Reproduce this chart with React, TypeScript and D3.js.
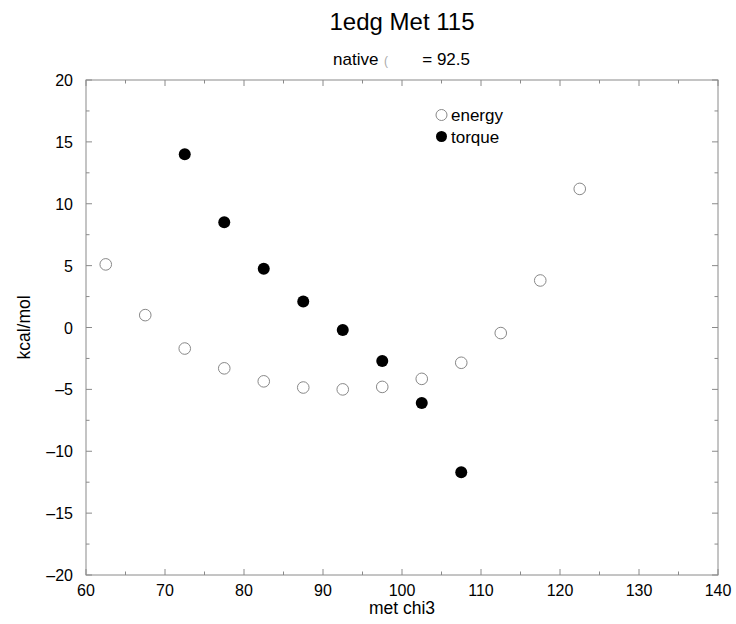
import React from "react";
import * as d3 from "d3";

const angles = [62.5, 67.5, 72.5, 77.5, 82.5, 87.5, 92.5, 97.5, 102.5, 107.5, 112.5, 117.5, 122.5];
const energy = [5.1, 1.0, -1.7, -3.3, -4.35, -4.85, -5.0, -4.8, -4.15, -2.85, -0.45, 3.8, 11.2];
const torqueAngles = [72.5, 77.5, 82.5, 87.5, 92.5, 97.5, 102.5, 107.5];
const torque = [14.0, 8.5, 4.75, 2.1, -0.2, -2.7, -6.1, -11.7];
const xTicks = [60, 70, 80, 90, 100, 110, 120, 130, 140];
const yTicks = [-20, -15, -10, -5, 0, 5, 10, 15, 20];

const W = 736, H = 624;
const left = 86, right = 718, top = 80, bottom = 575;
const FONT = "Liberation Sans, Arial, Helvetica, sans-serif";
const AX = "#8a8a8a";

export default function App() {
  const x = d3.scaleLinear().domain([60, 140]).range([left, right]);
  const y = d3.scaleLinear().domain([-20, 20]).range([bottom, top]);
  const xMinor = d3.range(65, 140, 10);
  const yMinor = d3.range(-17.5, 20, 5);
  const maj = 6, mnr = 3.5;

  return (
    <svg width={W} height={H} style={{ position: "absolute", left: 0, top: 0, background: "#fff" }} fontFamily={FONT}>
      <rect x={left} y={top} width={right - left} height={bottom - top} fill="none" stroke={AX} strokeWidth={1} />
      {xTicks.map((t) => (
        <g key={"xt" + t}>
          <line x1={x(t)} x2={x(t)} y1={bottom} y2={bottom - maj} stroke={AX} />
          <line x1={x(t)} x2={x(t)} y1={top} y2={top + maj} stroke={AX} />
          <text x={x(t)} y={596} textAnchor="middle" fontSize={16} fill="#000">{t}</text>
        </g>
      ))}
      {xMinor.map((t) => (
        <g key={"xm" + t}>
          <line x1={x(t)} x2={x(t)} y1={bottom} y2={bottom - mnr} stroke={AX} />
          <line x1={x(t)} x2={x(t)} y1={top} y2={top + mnr} stroke={AX} />
        </g>
      ))}
      {yTicks.map((t) => (
        <g key={"yt" + t}>
          <line x1={left} x2={left + maj} y1={y(t)} y2={y(t)} stroke={AX} />
          <line x1={right} x2={right - maj} y1={y(t)} y2={y(t)} stroke={AX} />
          <text x={73} y={y(t) + 6} textAnchor="end" fontSize={16} fill="#000">{t === 0 ? "0" : t < 0 ? "\u2013" + Math.abs(t) : t}</text>
        </g>
      ))}
      {yMinor.map((t) => (
        <g key={"ym" + t}>
          <line x1={left} x2={left + mnr} y1={y(t)} y2={y(t)} stroke={AX} />
          <line x1={right} x2={right - mnr} y1={y(t)} y2={y(t)} stroke={AX} />
        </g>
      ))}
      <text x={402} y={30} textAnchor="middle" fontSize={24} fill="#000">1edg Met 115</text>
      <text x={333} y={65} fontSize={17} fill="#000">native</text>
      <text x={384} y={65} fontSize={12} fill="#aaa">(</text>
      <text x={470} y={65} textAnchor="end" fontSize={17} fill="#000">= 92.5</text>
      <text transform={`translate(30,${(top + bottom) / 2}) rotate(-90)`} textAnchor="middle" fontSize={17.5} fill="#000">kcal/mol</text>
      <text x={(left + right) / 2} y={614} textAnchor="middle" fontSize={17.5} fill="#000">met chi3</text>

      {angles.map((a, i) => (
        <circle key={"e" + i} cx={x(a)} cy={y(energy[i])} r={5.8} fill="#fff" stroke="#888" strokeWidth={1} />
      ))}
      {torqueAngles.map((a, i) => (
        <circle key={"t" + i} cx={x(a)} cy={y(torque[i])} r={6} fill="#000" />
      ))}

      <circle cx={441.5} cy={115} r={5.5} fill="#fff" stroke="#888" strokeWidth={1} />
      <text x={451} y={121} fontSize={17} fill="#000">energy</text>
      <circle cx={441.5} cy={136.5} r={5.5} fill="#000" />
      <text x={451} y={142.5} fontSize={17} fill="#000">torque</text>
    </svg>
  );
}
